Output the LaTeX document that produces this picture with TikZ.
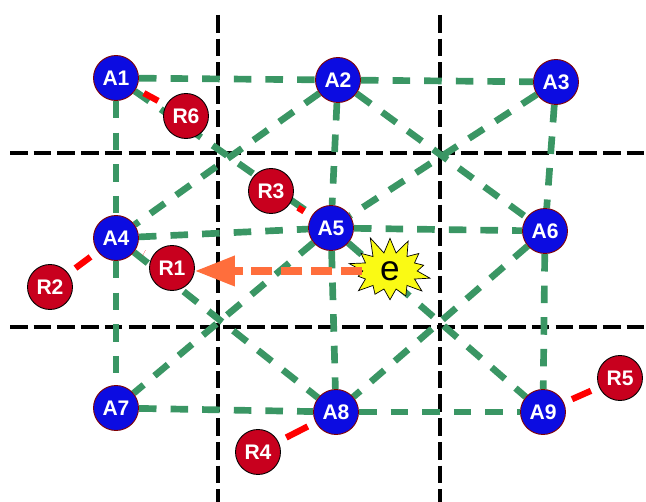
\documentclass[tikz,border=0pt]{standalone}
\usepackage{fontspec}
\setmainfont{Liberation Sans}
\usetikzlibrary{arrows.meta,shapes.symbols}
\definecolor{gr}{RGB}{58,150,100}
\definecolor{ablue}{RGB}{12,12,225}
\definecolor{rred}{RGB}{200,0,30}
\definecolor{arrowor}{RGB}{255,110,60}
\definecolor{staryel}{RGB}{250,250,20}
\pgfdeclarelayer{bg}
\pgfsetlayers{bg,main}
\begin{document}
\begin{tikzpicture}[x=0.02cm,y=-0.02cm,
  grid/.style={black, line width=2.8pt, dash pattern=on 10pt off 3.5pt},
  gedge/.style={gr, line width=3.8pt, dash pattern=on 10pt off 8pt},
  rlink/.style={red, line width=3.6pt, shorten <=5pt, shorten >=5pt},
  anode/.style={circle, fill=ablue, draw=red!50!black, line width=0.5pt, minimum size=0.9cm, inner sep=0pt, text=white, font=\bfseries\fontsize{12}{12}\selectfont},
  rnode/.style={circle, fill=rred, draw=black, line width=0.5pt, minimum size=0.9cm, inner sep=0pt, text=white, font=\bfseries\fontsize{12}{12}\selectfont},
  evnode/.style={starburst, starburst points=14, starburst point height=0.38cm, random starburst=11, fill=staryel, draw=black, line width=0.4pt, minimum width=1.85cm, minimum height=1.5cm, inner sep=0pt, font=\fontsize{20}{20}\selectfont}
]
\useasboundingbox (0,0) rectangle (646,502);
% nodes
\node[anode] (A1) at (116,78) {A1};
\node[anode] (A2) at (338,80) {A2};
\node[anode] (A3) at (556,82) {A3};
\node[anode] (A4) at (116,238) {A4};
\node[anode] (A5) at (331,228) {A5};
\node[anode] (A6) at (545,231) {A6};
\node[anode] (A7) at (116,408) {A7};
\node[anode] (A8) at (336,412) {A8};
\node[anode] (A9) at (543,412) {A9};
\node[rnode] (R6) at (186,116) {R6};
\node[rnode] (R3) at (271,191) {R3};
\node[rnode] (R1) at (172,268) {R1};
\node[rnode] (R2) at (50,287) {R2};
\node[rnode] (R4) at (258,452) {R4};
\node[rnode] (R5) at (620,378) {R5};
\begin{pgfonlayer}{bg}
% grid lines
\coordinate (v1t) at (218,15); \coordinate (v1b) at (218,502);
\coordinate (v2t) at (440,15); \coordinate (v2b) at (440,502);
\coordinate (h1l) at (10,153); \coordinate (h1r) at (646,153);
\coordinate (h2l) at (10,327); \coordinate (h2r) at (646,327);
\draw[grid] (v1t) -- (v1b);
\draw[grid] (v2t) -- (v2b);
\draw[grid] (h1l) -- (h1r);
\draw[grid] (h2l) -- (h2r);
\foreach \a/\b in {A1/A2,A2/A3,A1/A4,A4/A7,A7/A8,A8/A9,A3/A6,A6/A9,A2/A5,A5/A8,A4/A5,A5/A6,A1/A5,A2/A4,A2/A6,A3/A5,A4/A8,A5/A7,A5/A9,A6/A8}
  \draw[gedge] (\a) -- (\b);
\draw[rlink] (A1) -- (R6);
\draw[rlink] (R3) -- (A5);
\draw[rlink] (A4) -- (R1);
\draw[rlink] (A4) -- (R2);
\draw[rlink] (A8) -- (R4);
\draw[rlink] (A9) -- (R5);
\end{pgfonlayer}
\node[evnode] (e) at (390,271) {e};
\draw[arrowor, line width=4pt, dash pattern=on 12pt off 5pt, -{Triangle[length=0.8cm,width=0.58cm]}] (e.west) -- (e.west -| R1.east);
\end{tikzpicture}
\end{document}
